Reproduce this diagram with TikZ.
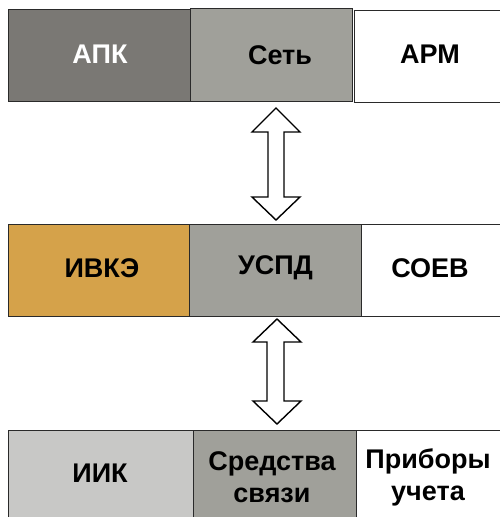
\documentclass[tikz,border=0pt]{standalone}
\usepackage{fontspec}
\setmainfont{Liberation Sans}
\definecolor{cdark}{HTML}{7A7874}
\definecolor{cgray}{HTML}{A0A09A}
\definecolor{corange}{HTML}{D5A24A}
\definecolor{clight}{HTML}{C8C8C6}
\definecolor{cline}{HTML}{2A2A2A}
\tikzset{
  cell/.style={draw=cline, line width=0.9pt},
  lbl/.style={font=\fontsize{27}{32}\selectfont\bfseries, text=black, align=center, inner sep=0pt},
  blockarrow/.style={draw=black, fill=white, line width=1.4pt, line join=miter}
}
\begin{document}
\begin{tikzpicture}[x=1pt,y=-1pt]
\useasboundingbox (0,0) rectangle (500,517);
\begin{scope}
\clip (0,0) rectangle (500,517);
% top row
\draw[cell, fill=cdark] (8,9) rectangle (190,101);
\draw[cell, fill=cgray] (190,8) rectangle (352,101);
\draw[cell, fill=white] (354,10) rectangle (512,102);
% middle row
\draw[cell, fill=corange] (8,224) rectangle (189,316);
\draw[cell, fill=cgray] (189,224) rectangle (361,316);
\draw[cell, fill=white] (361,224) rectangle (512,316);
% bottom row
\draw[cell, fill=clight] (8,430) rectangle (193,530);
\draw[cell, fill=cgray] (193,430) rectangle (356,530);
\draw[cell, fill=white] (356,430) rectangle (512,530);
\end{scope}
% labels
\node[lbl, text=white] (apk) at (100,54) {АПК};
\node[lbl] (set) at (280,55) {Сеть};
\node[lbl] (arm) at (430,54) {АРМ};
\node[lbl] (ivke) at (102,268) {ИВКЭ};
\node[lbl] (uspd) at (275.5,268) {УСПД};
\node[lbl] (soev) at (430,268) {СОЕВ};
\node[lbl] (iik) at (100,473) {ИИК};
\node[lbl] (sredstva) at (272,477) {Средства\\связи};
\node[lbl] (pribory) at (428,477) {Приборы\\учета};
% block arrows
\draw[blockarrow] (276,108) -- (300,132) -- (284,132) -- (284,197) -- (300,197) -- (276,220)
  -- (252,197) -- (268,197) -- (268,132) -- (252,132) -- cycle;
\draw[blockarrow] (277,319) -- (301,342) -- (284,342) -- (284,401) -- (301,401) -- (277,424)
  -- (253,401) -- (267,401) -- (267,342) -- (253,342) -- cycle;
\end{tikzpicture}
\end{document}
